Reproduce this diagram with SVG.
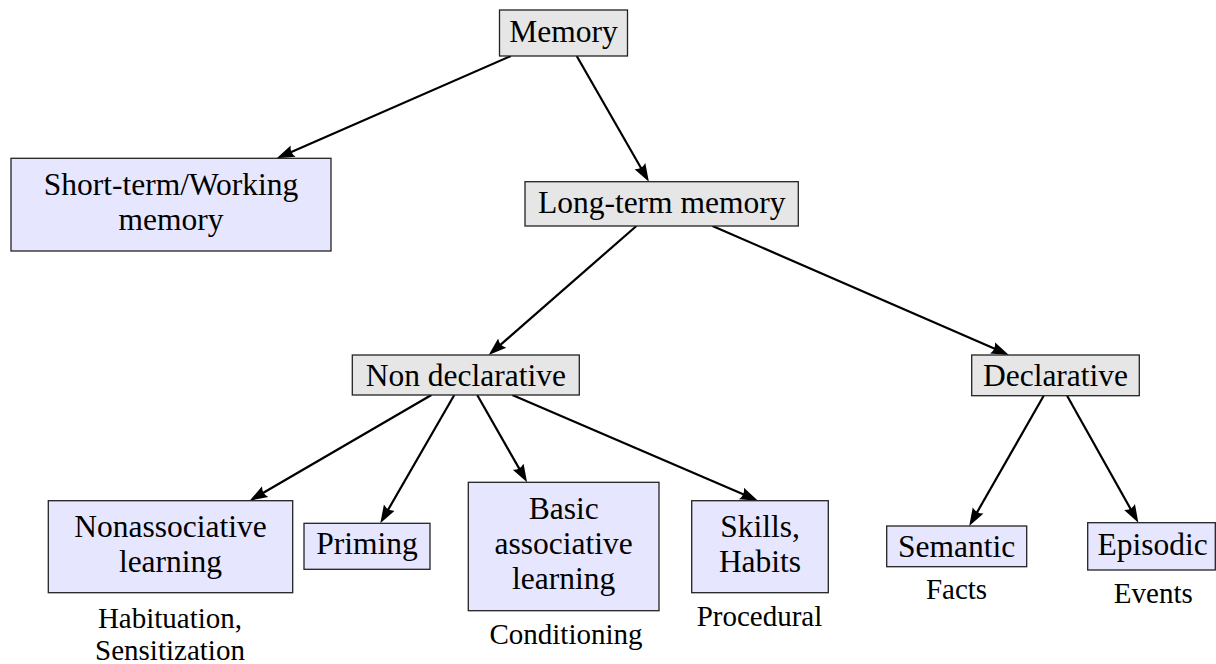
<svg xmlns="http://www.w3.org/2000/svg" width="1216" height="664" viewBox="0 0 1216 664">
<style>
  .g { fill: #e6e6e6; stroke: #222; stroke-width: 1.3; }
  .b { fill: #e6e6ff; stroke: #222; stroke-width: 1.3; }
  text { font-family: "Liberation Serif", "Times New Roman", serif; fill: #000; text-anchor: middle; }
  .t { font-size: 31.5px; }
  .a { font-size: 29px; }
  .e { fill: none; stroke: #000; stroke-width: 2.2; marker-end: url(#ah); }
</style>
<defs>
  <marker id="ah" markerUnits="userSpaceOnUse" viewBox="0 0 18 14" markerWidth="18" markerHeight="14" refX="12" refY="7" orient="auto">
    <path d="M0,0.8 L18,7 L0,13.2 Q4,7 0,0.8 Z" fill="#000"/>
  </marker>
</defs>
<rect width="1216" height="664" fill="#fff"/>
<g id="connectors">
  <line class="e" x1="510.9" y1="56" x2="282.2" y2="155.9"/>
  <line class="e" x1="576.7" y1="56" x2="645.9" y2="176.5"/>
  <line class="e" x1="636.4" y1="226" x2="493.2" y2="351.1"/>
  <line class="e" x1="712.5" y1="226" x2="1003.4" y2="352.6"/>
  <line class="e" x1="431.4" y1="395" x2="254.8" y2="497.7"/>
  <line class="e" x1="454.3" y1="395" x2="383.3" y2="518.1"/>
  <line class="e" x1="477.2" y1="395" x2="524.1" y2="477.1"/>
  <line class="e" x1="512.3" y1="395" x2="752.5" y2="498.3"/>
  <line class="e" x1="1043.7" y1="395.7" x2="972.2" y2="520.8"/>
  <line class="e" x1="1067.1" y1="395.7" x2="1135.4" y2="517.5"/>
</g>
<g id="memory">
  <rect class="g" x="499.5" y="10" width="128" height="46"/>
  <text class="t" x="563.5" y="42">Memory</text>
</g>
<g id="short-term">
  <rect class="b" x="11" y="158.3" width="320" height="92.7"/>
  <text class="t" x="171" y="195">Short-term/Working</text>
  <text class="t" x="171" y="230">memory</text>
</g>
<g id="long-term">
  <rect class="g" x="525" y="181.7" width="273.3" height="44.3"/>
  <text class="t" x="661.7" y="212.5">Long-term memory</text>
</g>
<g id="non-declarative">
  <rect class="g" x="352.3" y="355" width="227" height="40"/>
  <text class="t" x="465.8" y="386">Non declarative</text>
</g>
<g id="declarative">
  <rect class="g" x="971.7" y="355" width="167.6" height="40.7"/>
  <text class="t" x="1055.5" y="386.3">Declarative</text>
</g>
<g id="nonassociative">
  <rect class="b" x="48.3" y="500.7" width="244.4" height="92"/>
  <text class="t" x="170.5" y="537">Nonassociative</text>
  <text class="t" x="170.5" y="572">learning</text>
  <text class="a" x="170" y="628">Habituation,</text>
  <text class="a" x="170" y="660">Sensitization</text>
</g>
<g id="priming">
  <rect class="b" x="304" y="523.3" width="126" height="46"/>
  <text class="t" x="367" y="554">Priming</text>
</g>
<g id="basic">
  <rect class="b" x="468.3" y="482.3" width="190.7" height="128.4"/>
  <text class="t" x="563.7" y="519">Basic</text>
  <text class="t" x="563.7" y="554">associative</text>
  <text class="t" x="563.7" y="589">learning</text>
  <text class="a" x="566" y="644">Conditioning</text>
</g>
<g id="skills">
  <rect class="b" x="691.7" y="500.7" width="136.6" height="92"/>
  <text class="t" x="760" y="537">Skills,</text>
  <text class="t" x="760" y="572">Habits</text>
  <text class="a" x="759.5" y="626">Procedural</text>
</g>
<g id="semantic">
  <rect class="b" x="886.7" y="526" width="140" height="40.7"/>
  <text class="t" x="956.7" y="557">Semantic</text>
  <text class="a" x="956.5" y="599">Facts</text>
</g>
<g id="episodic">
  <rect class="b" x="1087.7" y="522.7" width="127.6" height="47.3"/>
  <text class="t" x="1152.7" y="554.5">Episodic</text>
  <text class="a" x="1153.3" y="603">Events</text>
</g>
</svg>
